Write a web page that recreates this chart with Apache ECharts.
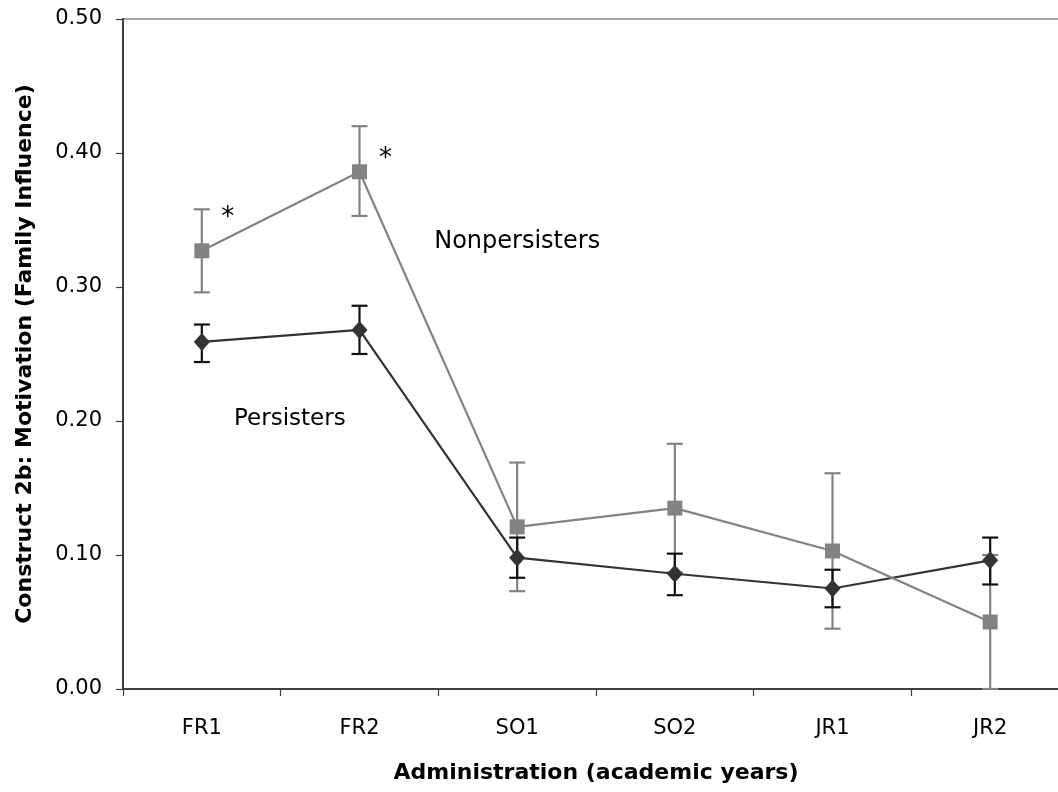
<!DOCTYPE html>
<html>
<head>
<meta charset="utf-8">
<script src="https://cdn.jsdelivr.net/npm/echarts@6/dist/echarts.min.js"></script>
<style>
  html, body { margin: 0; padding: 0; background: #fff; }
  #chart { width: 1058px; height: 792px; }
</style>
</head>
<body>
<div id="chart"></div>
<script>
// administrations along the x axis
var categories = ['FR1', 'FR2', 'SO1', 'SO2', 'JR1', 'JR2'];

// means
var persisters = [0.259, 0.268, 0.098, 0.086, 0.075, 0.096];
var nonpersisters = [0.327, 0.386, 0.121, 0.135, 0.103, 0.050];

// error bar ends (low, high)
var persistersLow = [0.244, 0.250, 0.083, 0.070, 0.061, 0.078];
var persistersHigh = [0.272, 0.286, 0.113, 0.101, 0.089, 0.113];
var nonpersistersLow = [0.296, 0.353, 0.073, 0.087, 0.045, 0.000];
var nonpersistersHigh = [0.358, 0.420, 0.169, 0.183, 0.161, 0.100];

var yTicks = [0, 0.1, 0.2, 0.3, 0.4, 0.5];

var font = '"DejaVu Sans", sans-serif';
var grayColor = '#838383';
var darkColor = '#333333';

function errorData(low, high) {
    var out = [];
    for (var i = 0; i < categories.length; i++) {
        out.push([i, low[i], high[i]]);
    }
    return out;
}

// vertical bar with two caps, drawn through the axes
function errorBars(color) {
    return function (params, api) {
        var x = api.value(0);
        var lo = api.coord([x, api.value(1)]);
        var hi = api.coord([x, api.value(2)]);
        var half = 8;
        var style = { stroke: color, lineWidth: 2.2, fill: null };
        return {
            type: 'group',
            children: [
                { type: 'line', shape: { x1: hi[0], y1: hi[1], x2: lo[0], y2: lo[1] }, style: style },
                { type: 'line', shape: { x1: hi[0] - half, y1: hi[1], x2: hi[0] + half, y2: hi[1] }, style: style },
                { type: 'line', shape: { x1: lo[0] - half, y1: lo[1], x2: lo[0] + half, y2: lo[1] }, style: style }
            ]
        };
    };
}

var chart = echarts.init(document.getElementById('chart'));

var option = {
    backgroundColor: '#ffffff',
    animation: false,
    grid: {
        left: 123,
        top: 19,
        width: 946,
        height: 670,
        outerBoundsMode: 'none',
        containLabel: false,
        show: true,
        borderColor: '#8a8a8a',
        borderWidth: 1.5,
        backgroundColor: 'transparent'
    },
    xAxis: {
        type: 'category',
        data: categories,
        boundaryGap: true,
        name: 'Administration (academic years)',
        nameLocation: 'middle',
        nameGap: 73,
        nameTextStyle: { fontFamily: font, fontWeight: 'bold', fontSize: 22, color: '#000' },
        axisLine: { lineStyle: { color: '#404040', width: 2 } },
        axisTick: { show: true, interval: 0, length: 7, lineStyle: { color: '#404040', width: 1.2 } },
        axisLabel: { fontFamily: font, fontSize: 21, color: '#000', margin: 29 },
        splitLine: { show: false }
    },
    yAxis: {
        type: 'value',
        min: yTicks[0],
        max: yTicks[yTicks.length - 1],
        interval: 0.1,
        name: 'Construct 2b: Motivation (Family Influence)',
        nameLocation: 'middle',
        nameRotate: 90,
        nameGap: 87,
        nameTextStyle: { fontFamily: font, fontWeight: 'bold', fontSize: 22, color: '#000' },
        axisLine: { show: true, lineStyle: { color: '#404040', width: 2 } },
        axisTick: { show: true, length: 7, lineStyle: { color: '#404040', width: 1.2 } },
        axisLabel: {
            fontFamily: font, fontSize: 21, color: '#000', margin: 21,
            formatter: function (v) { return v.toFixed(2); }
        },
        splitLine: { show: false }
    },
    series: [
        {
            name: 'Nonpersisters error',
            type: 'custom',
            renderItem: errorBars(grayColor),
            data: errorData(nonpersistersLow, nonpersistersHigh),
            z: 2
        },
        {
            name: 'Persisters error',
            type: 'custom',
            renderItem: errorBars('#111111'),
            data: errorData(persistersLow, persistersHigh),
            z: 3
        },
        {
            name: 'Persisters',
            type: 'line',
            data: persisters,
            symbol: 'diamond',
            symbolSize: [16, 18],
            showAllSymbol: true,
            lineStyle: { color: darkColor, width: 2.2 },
            itemStyle: { color: darkColor },
            z: 4,
            markPoint: {
                symbol: 'rect',
                symbolSize: 0,
                label: { show: true, fontFamily: font, fontSize: 23, color: '#000', offset: [88, 0], formatter: 'Persisters' },
                data: [{ coord: ['FR1', 0.2016] }]
            }
        },
        {
            name: 'Nonpersisters',
            type: 'line',
            data: nonpersisters,
            symbol: 'rect',
            symbolSize: 15,
            showAllSymbol: true,
            lineStyle: { color: grayColor, width: 2.2 },
            itemStyle: { color: grayColor },
            z: 5,
            markPoint: {
                symbol: 'rect',
                symbolSize: 0,
                label: { show: true, fontFamily: font, fontSize: 26, color: '#000' },
                data: [
                    { coord: ['SO1', 0.334], label: { formatter: 'Nonpersisters', fontSize: 24 } },
                    { coord: ['FR1', 0.351], label: { formatter: '*', offset: [26, 0] } },
                    { coord: ['FR2', 0.395], label: { formatter: '*', offset: [26, 0] } }
                ]
            }
        }
    ]
};

chart.setOption(option);
</script>
</body>
</html>
